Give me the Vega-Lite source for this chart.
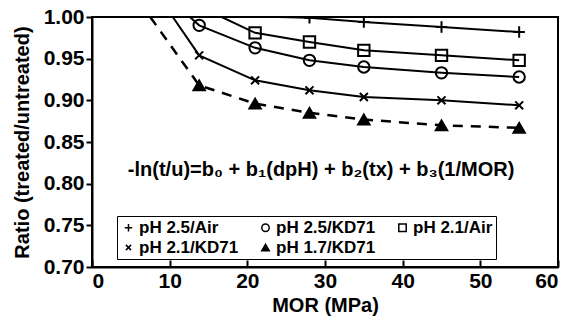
{
  "$schema": "https://vega.github.io/schema/vega-lite/v6.json",
  "width": 466,
  "height": 250,
  "autosize": {"type": "none"},
  "padding": {"left": 92, "top": 17, "right": 14, "bottom": 55},
  "background": "white",
  "config": {
    "font": "Liberation Sans",
    "view": {"stroke": "black", "strokeWidth": 2},
    "axis": {"domainColor": "black", "domainWidth": 2, "tickColor": "black", "tickWidth": 2, "labelColor": "black", "titleColor": "black", "grid": false, "labelFont": "Liberation Sans", "titleFont": "Liberation Sans", "labelFontSize": 21, "labelFontWeight": "bold", "titleFontSize": 20, "titleFontWeight": "bold"}
  },
  "datasets": {
    "curve": [
      {"series": "pH 2.5/Air", "mor": 24, "ratio": 1.0},
      {"series": "pH 2.5/Air", "mor": 28, "ratio": 0.999},
      {"series": "pH 2.5/Air", "mor": 35, "ratio": 0.994},
      {"series": "pH 2.5/Air", "mor": 45, "ratio": 0.988},
      {"series": "pH 2.5/Air", "mor": 55, "ratio": 0.982},
      {"series": "pH 2.5/KD71", "mor": 12.6, "ratio": 1.0},
      {"series": "pH 2.5/KD71", "mor": 13.8, "ratio": 0.99},
      {"series": "pH 2.5/KD71", "mor": 21, "ratio": 0.963},
      {"series": "pH 2.5/KD71", "mor": 28, "ratio": 0.948},
      {"series": "pH 2.5/KD71", "mor": 35, "ratio": 0.94},
      {"series": "pH 2.5/KD71", "mor": 45, "ratio": 0.933},
      {"series": "pH 2.5/KD71", "mor": 55, "ratio": 0.928},
      {"series": "pH 2.1/Air", "mor": 16.7, "ratio": 1.0},
      {"series": "pH 2.1/Air", "mor": 21, "ratio": 0.981},
      {"series": "pH 2.1/Air", "mor": 28, "ratio": 0.97},
      {"series": "pH 2.1/Air", "mor": 35, "ratio": 0.96},
      {"series": "pH 2.1/Air", "mor": 45, "ratio": 0.954},
      {"series": "pH 2.1/Air", "mor": 55, "ratio": 0.948},
      {"series": "pH 2.1/KD71", "mor": 10.4, "ratio": 1.0},
      {"series": "pH 2.1/KD71", "mor": 13.8, "ratio": 0.954},
      {"series": "pH 2.1/KD71", "mor": 21, "ratio": 0.924},
      {"series": "pH 2.1/KD71", "mor": 28, "ratio": 0.912},
      {"series": "pH 2.1/KD71", "mor": 35, "ratio": 0.904},
      {"series": "pH 2.1/KD71", "mor": 45, "ratio": 0.9},
      {"series": "pH 2.1/KD71", "mor": 55, "ratio": 0.894},
      {"series": "pH 1.7/KD71", "mor": 7.5, "ratio": 1.0},
      {"series": "pH 1.7/KD71", "mor": 13.8, "ratio": 0.918},
      {"series": "pH 1.7/KD71", "mor": 21, "ratio": 0.896},
      {"series": "pH 1.7/KD71", "mor": 28, "ratio": 0.885},
      {"series": "pH 1.7/KD71", "mor": 35, "ratio": 0.877},
      {"series": "pH 1.7/KD71", "mor": 45, "ratio": 0.87},
      {"series": "pH 1.7/KD71", "mor": 55, "ratio": 0.867}
    ],
    "obs": [
      {"series": "pH 2.5/Air", "mor": 28, "ratio": 0.999},
      {"series": "pH 2.5/Air", "mor": 35, "ratio": 0.994},
      {"series": "pH 2.5/Air", "mor": 45, "ratio": 0.988},
      {"series": "pH 2.5/Air", "mor": 55, "ratio": 0.982},
      {"series": "pH 2.5/KD71", "mor": 13.8, "ratio": 0.99},
      {"series": "pH 2.5/KD71", "mor": 21, "ratio": 0.963},
      {"series": "pH 2.5/KD71", "mor": 28, "ratio": 0.948},
      {"series": "pH 2.5/KD71", "mor": 35, "ratio": 0.94},
      {"series": "pH 2.5/KD71", "mor": 45, "ratio": 0.933},
      {"series": "pH 2.5/KD71", "mor": 55, "ratio": 0.928},
      {"series": "pH 2.1/Air", "mor": 21, "ratio": 0.981},
      {"series": "pH 2.1/Air", "mor": 28, "ratio": 0.97},
      {"series": "pH 2.1/Air", "mor": 35, "ratio": 0.96},
      {"series": "pH 2.1/Air", "mor": 45, "ratio": 0.954},
      {"series": "pH 2.1/Air", "mor": 55, "ratio": 0.948},
      {"series": "pH 2.1/KD71", "mor": 13.8, "ratio": 0.954},
      {"series": "pH 2.1/KD71", "mor": 21, "ratio": 0.924},
      {"series": "pH 2.1/KD71", "mor": 28, "ratio": 0.912},
      {"series": "pH 2.1/KD71", "mor": 35, "ratio": 0.904},
      {"series": "pH 2.1/KD71", "mor": 45, "ratio": 0.9},
      {"series": "pH 2.1/KD71", "mor": 55, "ratio": 0.894},
      {"series": "pH 1.7/KD71", "mor": 13.8, "ratio": 0.918},
      {"series": "pH 1.7/KD71", "mor": 21, "ratio": 0.896},
      {"series": "pH 1.7/KD71", "mor": 28, "ratio": 0.885},
      {"series": "pH 1.7/KD71", "mor": 35, "ratio": 0.877},
      {"series": "pH 1.7/KD71", "mor": 45, "ratio": 0.87},
      {"series": "pH 1.7/KD71", "mor": 55, "ratio": 0.867}
    ]
  },
  "layer": [
    {
      "data": {"name": "curve"},
      "transform": [{"filter": "datum.series != 'pH 1.7/KD71'"}],
      "mark": {"type": "line", "color": "black", "strokeWidth": 2, "clip": true},
      "encoding": {
        "x": {"field": "mor", "type": "quantitative", "scale": {"domain": [0, 60], "nice": false}, "axis": {"values": [0, 10, 20, 30, 40, 50, 60], "tickSize": -7, "labelPadding": 10, "title": "MOR (MPa)", "titlePadding": 4}},
        "y": {"field": "ratio", "type": "quantitative", "scale": {"domain": [0.7, 1.0], "nice": false, "zero": false}, "axis": {"values": [0.7, 0.75, 0.8, 0.85, 0.9, 0.95, 1.0], "format": ".2f", "tickSize": 6, "labelPadding": 2, "title": "Ratio (treated/untreated)", "titlePadding": 11}},
        "detail": {"field": "series"}
      }
    },
    {
      "data": {"name": "curve"},
      "transform": [{"filter": "datum.series == 'pH 1.7/KD71'"}],
      "mark": {"type": "line", "color": "black", "strokeWidth": 2.5, "strokeDash": [10, 8], "clip": true},
      "encoding": {
        "x": {"field": "mor", "type": "quantitative"},
        "y": {"field": "ratio", "type": "quantitative"}
      }
    },
    {
      "data": {"name": "obs"},
      "mark": {"type": "point", "strokeWidth": 2, "size": 130, "opacity": 1, "clip": true},
      "encoding": {
        "x": {"field": "mor", "type": "quantitative"},
        "y": {"field": "ratio", "type": "quantitative"},
        "shape": {"field": "series", "type": "nominal", "scale": {"domain": ["pH 2.5/Air", "pH 2.5/KD71", "pH 2.1/Air", "pH 2.1/KD71", "pH 1.7/KD71"], "range": ["M-1,0H1M0,-1V1", "circle", "square", "M-0.7,-0.7L0.7,0.7M-0.7,0.7L0.7,-0.7", "triangle-up"]},
          "legend": {"title": null, "orient": "none", "legendX": 25, "legendY": 199, "columns": 3, "direction": "horizontal", "strokeColor": "black", "padding": 3, "labelFontSize": 17, "labelFontWeight": "bold", "labelColor": "black", "labelFont": "Liberation Sans", "symbolSize": 55, "symbolStrokeWidth": 1.5, "columnPadding": 18, "rowPadding": 2, "labelOffset": 2, "fillColor": "white"}},
        "fill": {"field": "series", "type": "nominal", "scale": {"domain": ["pH 2.5/Air", "pH 2.5/KD71", "pH 2.1/Air", "pH 2.1/KD71", "pH 1.7/KD71"], "range": ["transparent", "transparent", "transparent", "transparent", "black"]}},
        "stroke": {"field": "series", "type": "nominal", "scale": {"domain": ["pH 2.5/Air", "pH 2.5/KD71", "pH 2.1/Air", "pH 2.1/KD71", "pH 1.7/KD71"], "range": ["black", "black", "black", "black", "black"]}}
      }
    },
    {
      "data": {"values": [{"label": "-ln(t/u)=b₀ + b₁(dpH) + b₂(tx) + b₃(1/MOR)"}]},
      "mark": {"type": "text", "fontSize": 20, "fontWeight": "bold", "font": "Liberation Sans", "color": "black", "align": "center", "baseline": "middle"},
      "encoding": {
        "x": {"datum": 29.5},
        "y": {"datum": 0.816},
        "text": {"field": "label", "type": "nominal"}
      }
    }
  ]
}
